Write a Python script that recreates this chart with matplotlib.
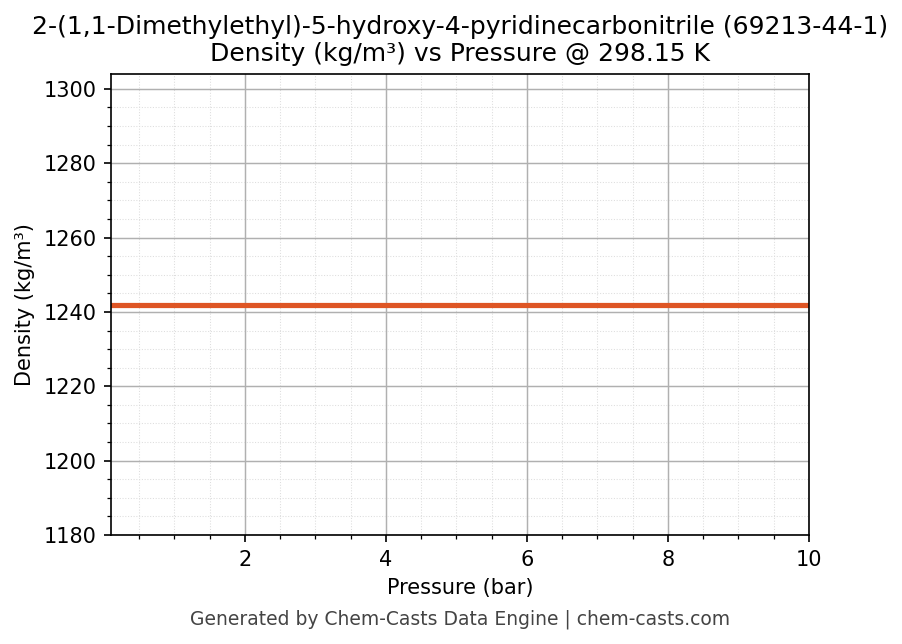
import matplotlib
matplotlib.use("Agg")
import matplotlib.pyplot as plt
from matplotlib.ticker import MultipleLocator

pressure_bar = [0.1, 1, 2, 3, 4, 5, 6, 7, 8, 9, 10]
density = [1241.9] * len(pressure_bar)

fig = plt.figure(figsize=(902/150, 644/150), dpi=150)
ax = fig.add_axes([111/902, 1 - 535/644, (809-111)/902, (535-74)/644])
ax.plot(pressure_bar, density, color="#DE5524", linewidth=2.5)
ax.set_xlim(0.1, 10)
ax.set_ylim(1180, 1304)
ax.xaxis.set_major_locator(MultipleLocator(2))
ax.xaxis.set_minor_locator(MultipleLocator(0.5))
ax.yaxis.set_major_locator(MultipleLocator(20))
ax.yaxis.set_minor_locator(MultipleLocator(5))
ax.grid(which="major", color="#b0b0b0", linewidth=0.7)
ax.grid(which="minor", color="#dddddd", linewidth=0.5, linestyle=":")
ax.set_xlabel("Pressure (bar)", fontsize=10)
ax.set_ylabel("Density (kg/m³)", fontsize=10)
ax.tick_params(labelsize=10)
ax.set_title("2-(1,1-Dimethylethyl)-5-hydroxy-4-pyridinecarbonitrile (69213-44-1)\nDensity (kg/m³) vs Pressure @ 298.15 K", fontsize=12)
fig.text(460/902, 1 - 619/644, "Generated by Chem-Casts Data Engine | chem-casts.com", ha="center", va="center", fontsize=9, color="#444444")
fig.savefig("out.png", dpi=150)
